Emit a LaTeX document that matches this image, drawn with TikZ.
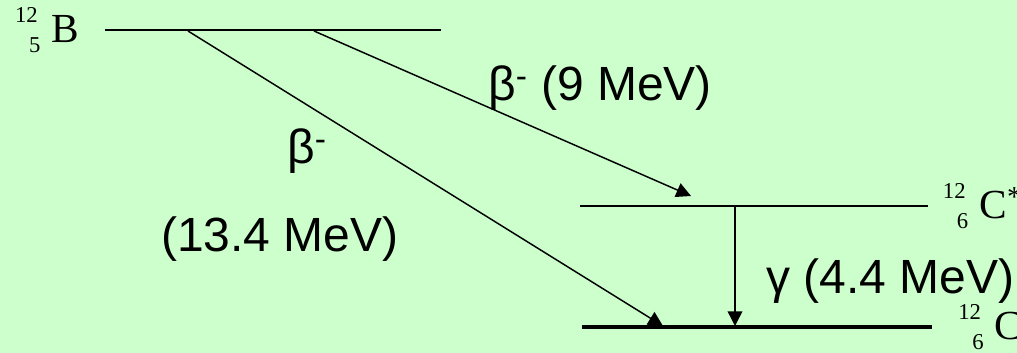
\documentclass[tikz,border=0pt]{standalone}
\usepackage{fontspec}
\setmainfont{Liberation Serif}
\newfontfamily\labelfont{Liberation Sans}
\usetikzlibrary{positioning, arrows.meta}
\definecolor{slidegreen}{RGB}{204, 255, 204}

% mass number over charge number, then the symbol
\newcommand{\nuclide}[3]{{\fontsize{17}{18}\selectfont\setbox0\hbox{#1}\rlap{\raisebox{15pt}{#1}}\makebox[\dimexpr\wd0+2pt\relax][r]{\raisebox{-7.1pt}{#2}}}\hspace{8.5pt}#3}

\begin{document}
\begin{tikzpicture}[
            x=0.75pt, y=-0.75pt,
            level/.style={line width=1.5pt},
            decay/.style={-{Triangle[length=11pt, width=11pt]}, line width=1.1pt},
            nucl/.style={inner sep=0pt, font=\fontsize{31}{31}\selectfont},
            energy/.style={inner sep=0pt, anchor=base west, font=\labelfont\fontsize{36}{42}\selectfont}
        ]
            \useasboundingbox (0,0) rectangle (1017,353);
            \fill[slidegreen] (0,0) rectangle (1017,353);

            % energy levels
            \coordinate (b-l) at (105,30);
            \coordinate (b-r) at (441,30);
            \coordinate (cx-l) at (580,206);
            \coordinate (cx-r) at (928,206);
            \coordinate (c-l) at (582,327);
            \coordinate (c-r) at (932,327);
            \draw[level] (b-l) -- (b-r);
            \draw[level] (cx-l) -- (cx-r);
            \draw[level, line width=2.3pt] (c-l) -- (c-r);

            \node[nucl, left=19pt of b-l] (boron) {\nuclide{12}{5}{B}};
            \node[nucl, right=11pt of cx-r] (carbonx) {\nuclide{12}{6}{C\textsuperscript{*}}};
            \node[nucl, right=19.5pt of c-r] (carbon) {\nuclide{12}{6}{C}};

            % decays
            \coordinate (b-s1) at (188,31);
            \coordinate (b-s2) at (314,31);
            \coordinate (c-t1) at (663,326);
            \coordinate (cx-t) at (691,196);
            \coordinate (cx-s) at (735,206);
            \coordinate (c-t2) at (735,326);
            \draw[decay] (b-s1) -- (c-t1);
            \draw[decay] (b-s2) -- (cx-t);
            \draw[decay] (cx-s) -- (c-t2);

            \node[energy] (beta-short) at (488,100) {β\textsuperscript{-} (9 MeV)};
            \node[energy] (beta-long) at (287,163) {β\textsuperscript{-}};
            \node[energy] (q-long) at (161,251) {(13.4 MeV)};
            \node[energy] (gamma) at (766,293) {γ (4.4 MeV)};
        \end{tikzpicture}
\end{document}
